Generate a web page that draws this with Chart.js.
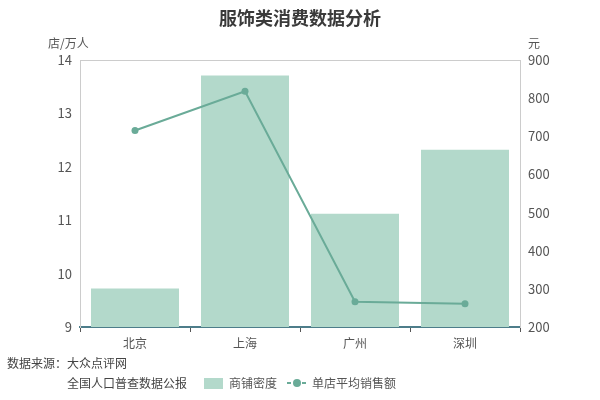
<!DOCTYPE html>
<html>
<head>
<meta charset="utf-8">
<script src="https://cdn.jsdelivr.net/npm/chart.js@4"></script>
<style>
  html, body { margin: 0; padding: 0; background: #fff; }
  #wrap { width: 600px; height: 400px; }
</style>
</head>
<body>
<div id="wrap"><canvas id="c" width="600" height="400"></canvas></div>
<script>
// values
const cities = ["北京", "上海", "广州", "深圳"];
const shopDensity = [9.72, 13.71, 11.12, 12.32];   // 店/万人
const avgSales = [715, 818, 266, 261];              // 元
const leftTicks = [9, 10, 11, 12, 13, 14];
const rightTicks = [200, 300, 400, 500, 600, 700, 800, 900];

const FONT = "'Noto Sans CJK SC', 'Noto Sans', sans-serif";
const barColor = "#b3d9cb";
const lineColor = "#6aab98";

// title, unit labels, source note and legend
const decor = {
  id: "decor",
  beforeDatasetsDraw(chart) {
    const { ctx, chartArea: a } = chart;
    ctx.save();
    ctx.strokeStyle = "#cccccc";
    ctx.lineWidth = 1;
    ctx.beginPath();
    ctx.moveTo(a.left, a.top + 0.5);
    ctx.lineTo(a.right, a.top + 0.5);
    ctx.stroke();
    ctx.restore();
  },
  afterDraw(chart) {
    const ctx = chart.ctx;
    ctx.save();
    ctx.textBaseline = "middle";

    ctx.fillStyle = "#3a3a3a";
    ctx.font = "bold 18px " + FONT;
    ctx.textAlign = "center";
    ctx.fillText("服饰类消费数据分析", 300, 18);

    ctx.fillStyle = "#555";
    ctx.font = "12px " + FONT;
    ctx.textAlign = "left";
    ctx.fillText("店/万人", 48, 43);
    ctx.fillText("元", 528, 43);

    ctx.fillStyle = "#444";
    ctx.fillText("数据来源：大众点评网", 7, 363);
    ctx.fillText("全国人口普查数据公报", 67, 383);

    // legend
    ctx.fillStyle = barColor;
    ctx.fillRect(204, 378, 19, 11);
    ctx.fillStyle = "#555";
    ctx.fillText(chart.data.datasets[1].label, 229, 383);

    ctx.strokeStyle = lineColor;
    ctx.lineWidth = 2;
    ctx.beginPath();
    ctx.moveTo(287, 383);
    ctx.lineTo(291, 383);
    ctx.moveTo(302, 383);
    ctx.lineTo(306, 383);
    ctx.stroke();
    ctx.fillStyle = lineColor;
    ctx.beginPath();
    ctx.arc(297, 383, 4, 0, Math.PI * 2);
    ctx.fill();
    ctx.fillStyle = "#555";
    ctx.fillText(chart.data.datasets[0].label, 312, 383);
    ctx.restore();
  },
};

new Chart(document.getElementById("c"), {
  data: {
    labels: cities,
    datasets: [
      {
        type: "line",
        label: "单店平均销售额",
        data: avgSales,
        yAxisID: "y1",
        borderColor: lineColor,
        backgroundColor: lineColor,
        borderWidth: 2,
        pointRadius: 3.5,
        pointBorderWidth: 0,
        tension: 0,
        order: 0,
      },
      {
        type: "bar",
        label: "商铺密度",
        data: shopDensity,
        yAxisID: "y",
        backgroundColor: barColor,
        barPercentage: 0.8,
        categoryPercentage: 1,
        order: 1,
      },
    ],
  },
  options: {
    responsive: false,
    animation: false,
    layout: { padding: { top: 60, bottom: 0, left: 0, right: 0 } },
    plugins: { legend: { display: false }, tooltip: { enabled: false } },
    scales: {
      x: {
        z: 1,
        offset: true,
        grid: { offset: true, drawOnChartArea: false, tickLength: 5, color: "#555" },
        border: { color: "#4d7d8a", width: 2 },
        ticks: { color: "#555", padding: 4, font: { family: FONT, size: 12 } },
        afterFit(s) { s.height = 73; },
      },
      y: {
        position: "left",
        min: leftTicks[0],
        max: leftTicks[leftTicks.length - 1],
        afterBuildTicks(s) { s.ticks = leftTicks.map(v => ({ value: v })); },
        grid: { drawOnChartArea: false, drawTicks: false },
        border: { color: "#cccccc", width: 1 },
        ticks: { color: "#555", padding: 8, font: { family: FONT, size: 13 } },
        afterFit(s) { s.width = 80; },
      },
      y1: {
        position: "right",
        min: rightTicks[0],
        max: rightTicks[rightTicks.length - 1],
        afterBuildTicks(s) { s.ticks = rightTicks.map(v => ({ value: v })); },
        grid: { drawOnChartArea: false, drawTicks: false },
        border: { color: "#cccccc", width: 1 },
        ticks: { color: "#555", padding: 8, font: { family: FONT, size: 13 } },
        afterFit(s) { s.width = 80; },
      },
    },
  },
  plugins: [decor],
});
</script>
</body>
</html>
